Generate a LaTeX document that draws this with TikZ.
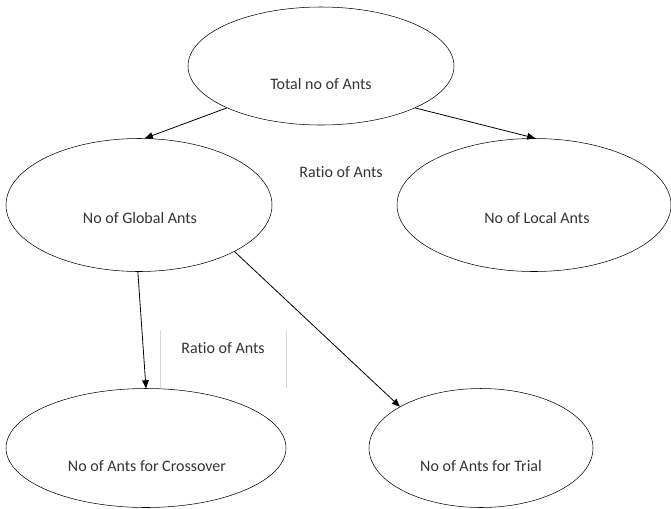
\documentclass[tikz,border=0pt]{standalone}
\usepackage{fontspec}
\setmainfont{Carlito}[Ligatures=NoCommon]
\usetikzlibrary{calc,shapes,arrows.meta}
\usepackage{tikz}

\begin{document}
\begin{tikzpicture}[x=0.75pt, y=-0.75pt,
    bubble/.style = {draw, ellipse, thin, inner sep=0pt},
    caption/.style = {text=black!80, font=\fontsize{12}{14}\selectfont, inner sep=1pt},
    link/.style = {semithick, -{Triangle[length=6pt,width=5pt]}}]
    \useasboundingbox (0,0) rectangle (671,508);

    \node [bubble, minimum width=199.5pt, minimum height=88.5pt] (total) at (321,66) {};
    \node [bubble, minimum width=199.5pt, minimum height=99.75pt] (global) at (139,205) {};
    \node [bubble, minimum width=205.5pt, minimum height=99.75pt] (local) at (534,205) {};
    \node [bubble, minimum width=210pt, minimum height=89.25pt] (cross) at (146,448) {};
    \node [bubble, minimum width=168pt, minimum height=89.25pt] (trial) at (481,448) {};

    \node [caption] (totaltxt) at (321,84) {Total no of Ants};
    \node [caption] (globaltxt) at (140,218) {No of Global Ants};
    \node [caption] (localtxt) at (537,218) {No of Local Ants};
    \node [caption] (crosstxt) at (147,466) {No of Ants for Crossover};
    \node [caption] (trialtxt) at (481,466) {No of Ants for Trial};

    \node [caption] (ratioA) at (341,172) {Ratio of Ants};
    \node [caption] (ratioB) at (223,348) {Ratio of Ants};

    % faint sides of the text box
    \coordinate (boxtl) at (160,330);
    \coordinate (boxbl) at (160,388);
    \coordinate (boxtr) at (286,330);
    \coordinate (boxbr) at (286,388);
    \draw [black!15, thin] (boxtl) -- (boxbl);
    \draw [black!15, thin] (boxtr) -- (boxbr);

    \draw [link] (total.204) -- (global.85);
    \draw [link] (total.336) -- (local.89);
    \draw [link] (global.269) -- (cross.90);
    \draw [link] (global.334) -- (trial.153);
\end{tikzpicture}
\end{document}
